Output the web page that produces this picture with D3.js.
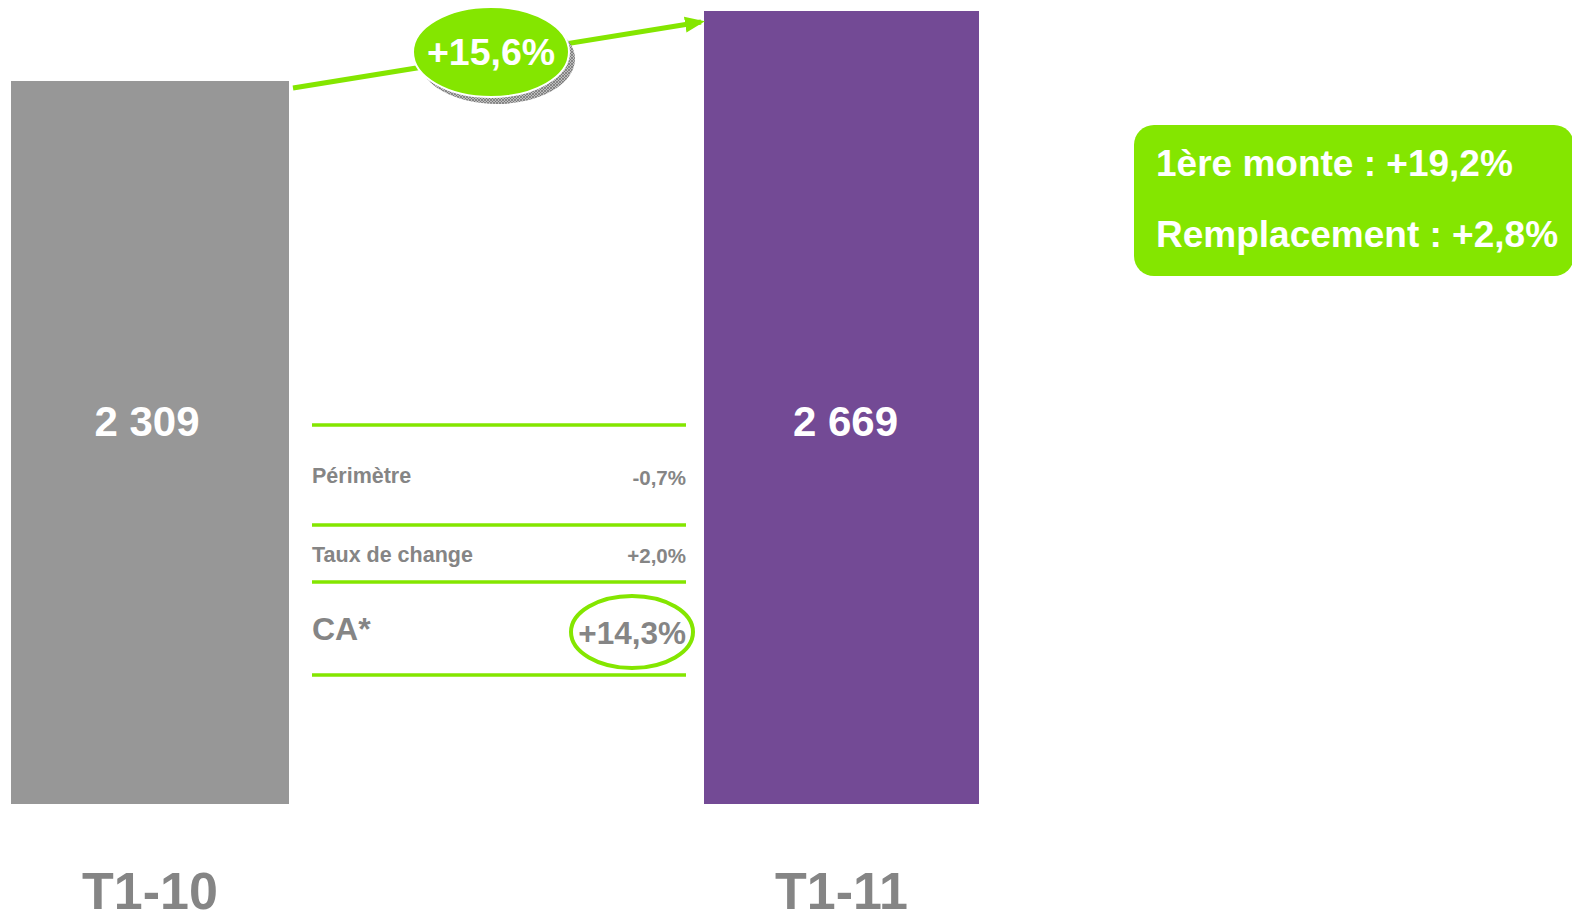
<!DOCTYPE html>
<html>
<head>
<meta charset="utf-8">
<script src="https://cdn.jsdelivr.net/npm/d3@7"></script>
<style>
  body { margin: 0; background: #fff; }
  svg { font-family: "Liberation Sans", Arial, sans-serif; }
</style>
</head>
<body>
<svg id="chart" width="1572" height="916"></svg>
<script>
// data
const periods = ["T1-10", "T1-11"];
const sales = [2309, 2669];
const growthLabel = "+15,6%";
const bridgeRows = ["Périmètre", "Taux de change", "CA*"];
const bridgeValues = ["-0,7%", "+2,0%", "+14,3%"];
const splitLines = ["1ère monte : +19,2%", "Remplacement : +2,8%"];

const green = "#84e600";
const greyText = "#858585";
const barColor = { "T1-10": "#979797", "T1-11": "#734a95" };

const svg = d3.select("#chart");

// scale is not zero based in the original slide
const y = d3.scaleLinear().domain([-1410, 2669]).range([804, 11]);

const x = d3.scaleOrdinal().domain(periods).range([11, 704]);
const barW = { "T1-10": 278, "T1-11": 275 };
const labelShift = { "T1-10": -3, "T1-11": 4 };

svg.append("g")
  .selectAll("rect")
  .data(periods)
  .join("rect")
  .attr("x", (d) => x(d))
  .attr("y", (d, i) => y(sales[i]))
  .attr("width", (d) => barW[d])
  .attr("height", (d, i) => y(y.domain()[0]) - y(sales[i]))
  .attr("fill", (d) => barColor[d]);

// value labels in the bars
const fmt = (v) => d3.format(",")(v).replace(",", " ");
svg.append("g")
  .selectAll("text")
  .data(periods)
  .join("text")
  .attr("x", (d) => x(d) + barW[d] / 2 + labelShift[d])
  .attr("y", 436)
  .attr("text-anchor", "middle")
  .attr("fill", "#fff")
  .attr("font-weight", "bold")
  .attr("font-size", 42)
  .text((d, i) => fmt(sales[i]));

// category labels
svg.append("g")
  .selectAll("text")
  .data(periods)
  .join("text")
  .attr("x", (d) => x(d) + barW[d] / 2)
  .attr("y", 909)
  .attr("text-anchor", "middle")
  .attr("fill", greyText)
  .attr("font-weight", "bold")
  .attr("font-size", 52)
  .text((d) => d);

// growth arrow
const defs = svg.append("defs");
defs.append("marker")
  .attr("id", "arrow")
  .attr("viewBox", "0 0 10 10")
  .attr("refX", 8)
  .attr("refY", 5)
  .attr("markerWidth", 4)
  .attr("markerHeight", 4)
  .attr("orient", "auto")
  .append("path")
  .attr("d", "M0,1 L10,5 L0,9 Z")
  .attr("fill", green);

const pat = defs.append("pattern")
  .attr("id", "hatch")
  .attr("width", 3)
  .attr("height", 3)
  .attr("patternUnits", "userSpaceOnUse");
pat.append("rect").attr("width", 3).attr("height", 3).attr("fill", "#bdbdbd");
pat.append("path").attr("d", "M0,0 L3,3 M3,0 L0,3").attr("stroke", "#6e6e6e").attr("stroke-width", 0.7);

svg.append("line")
  .attr("x1", x("T1-10") + barW["T1-10"] + 4)
  .attr("y1", 88)
  .attr("x2", x("T1-11") - 3)
  .attr("y2", 22)
  .attr("stroke", green)
  .attr("stroke-width", 5)
  .attr("marker-end", "url(#arrow)");

const bubble = svg.append("g").attr("transform", "translate(491,52)");
bubble.append("ellipse")
  .attr("cx", 6).attr("cy", 7)
  .attr("rx", 78).attr("ry", 45)
  .attr("fill", "url(#hatch)");
bubble.append("ellipse")
  .attr("rx", 78).attr("ry", 45)
  .attr("fill", green)
  .attr("stroke", "#fff")
  .attr("stroke-width", 2);
bubble.append("text")
  .attr("y", 13)
  .attr("text-anchor", "middle")
  .attr("fill", "#fff")
  .attr("font-weight", "bold")
  .attr("font-size", 37.5)
  .text(growthLabel);

// bridge table
const tx0 = 312, tx1 = 686;
const ruleY = [425, 525, 582, 675];
svg.append("g")
  .selectAll("line")
  .data(ruleY)
  .join("line")
  .attr("x1", tx0).attr("x2", tx1)
  .attr("y1", (d) => d).attr("y2", (d) => d)
  .attr("stroke", green)
  .attr("stroke-width", 3.5);

const rowY = [483, 562, 640];
const rowSize = [21.5, 21.5, 32];
const valSize = [20.5, 20.5, 31.5];
const valY = [485, 563, 644];
const rows = svg.append("g").attr("fill", greyText).attr("font-weight", "bold");
rows.selectAll(".lab")
  .data(bridgeRows)
  .join("text")
  .attr("class", "lab")
  .attr("x", tx0)
  .attr("y", (d, i) => rowY[i])
  .attr("font-size", (d, i) => rowSize[i])
  .text((d) => d);
rows.selectAll(".val")
  .data(bridgeValues)
  .join("text")
  .attr("class", "val")
  .attr("x", tx1)
  .attr("y", (d, i) => valY[i])
  .attr("text-anchor", "end")
  .attr("font-size", (d, i) => valSize[i])
  .text((d) => d);

svg.append("ellipse")
  .attr("cx", 632).attr("cy", 632)
  .attr("rx", 61).attr("ry", 36)
  .attr("fill", "none")
  .attr("stroke", green)
  .attr("stroke-width", 4);

// first equipment / replacement box
const box = svg.append("g");
box.append("rect")
  .attr("x", 1134).attr("y", 125)
  .attr("width", 440).attr("height", 151)
  .attr("rx", 20)
  .attr("fill", green);
box.selectAll("text")
  .data(splitLines)
  .join("text")
  .attr("x", 1156)
  .attr("y", (d, i) => 176 + i * 71)
  .attr("fill", "#fff")
  .attr("font-weight", "bold")
  .attr("font-size", 37)
  .text((d) => d);
</script>
</body>
</html>
